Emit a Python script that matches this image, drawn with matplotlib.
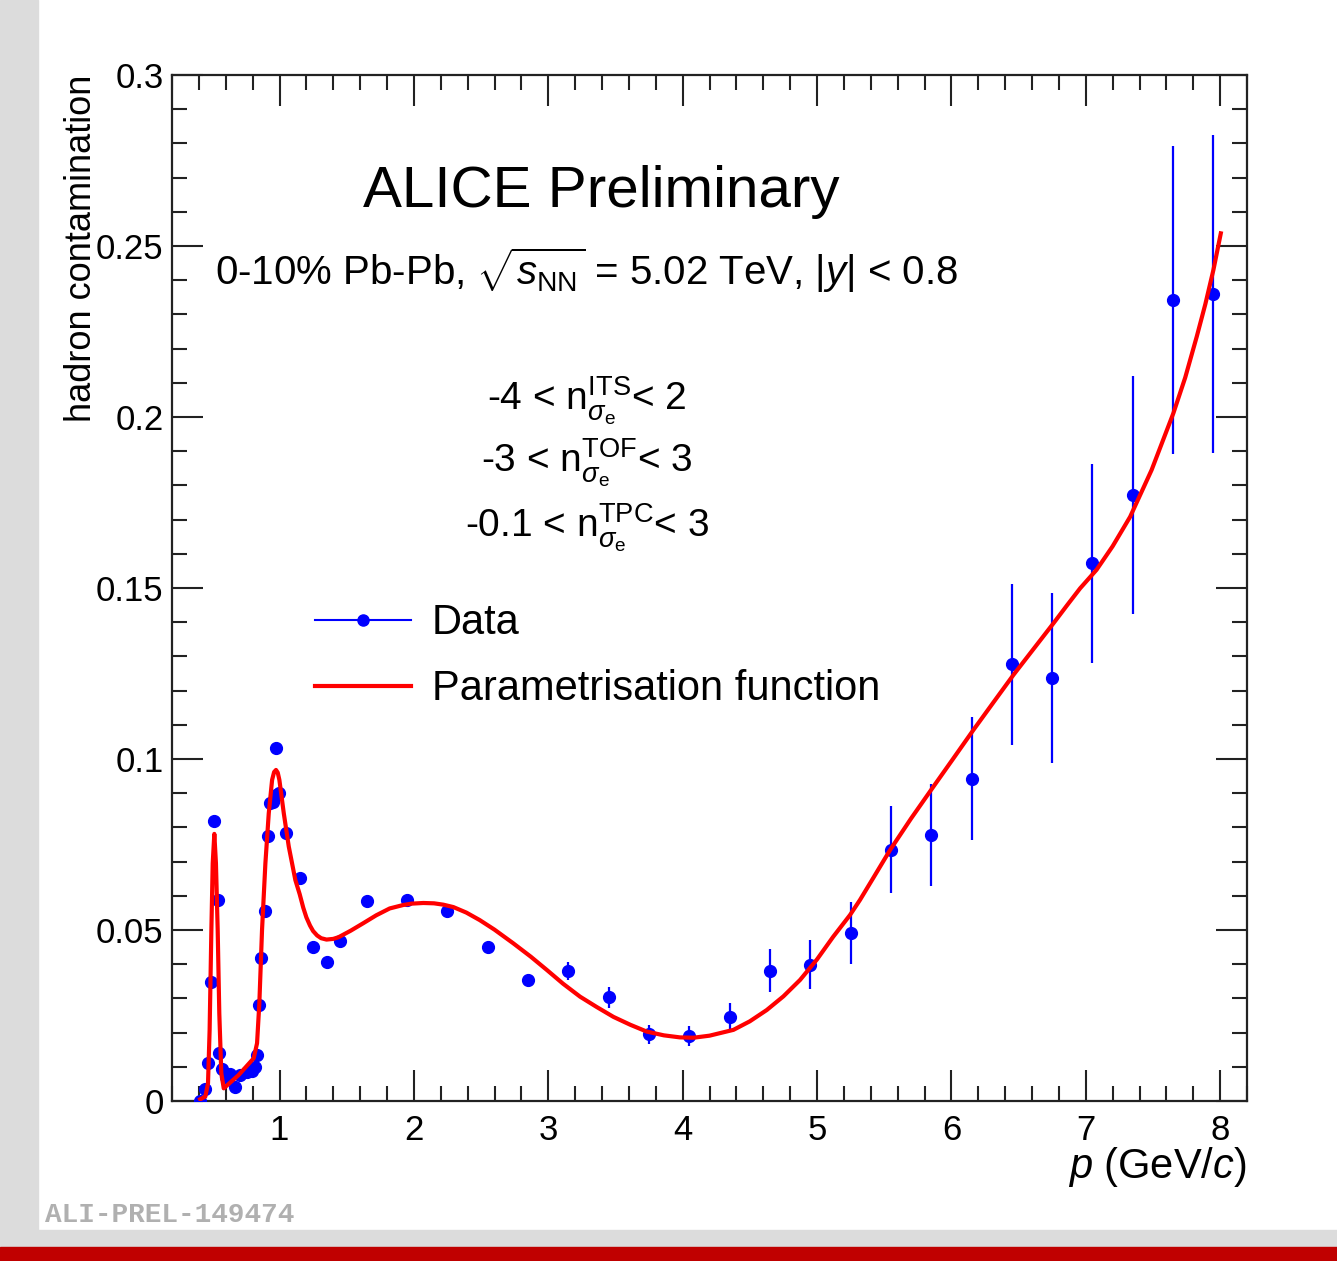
import matplotlib
matplotlib.use('Agg')
import matplotlib.pyplot as plt
from matplotlib.lines import Line2D
from matplotlib.patches import Rectangle
from matplotlib.ticker import MultipleLocator

plt.rcParams['font.family'] = ['Liberation Sans', 'DejaVu Sans']
plt.rcParams['mathtext.fontset'] = 'custom'
plt.rcParams['mathtext.rm'] = 'Liberation Sans'
plt.rcParams['mathtext.it'] = 'Liberation Sans:italic'
plt.rcParams['mathtext.bf'] = 'Liberation Sans:bold'

#%% Data
p_data = [0.41, 0.448, 0.468, 0.49, 0.51, 0.54, 0.552, 0.572, 0.602, 0.629,
          0.671, 0.708, 0.758, 0.795, 0.82, 0.833, 0.85, 0.862, 0.892, 0.912,
          0.929, 0.955, 0.974, 0.975, 0.994, 1.05, 1.15, 1.25, 1.35, 1.45,
          1.65, 1.95, 2.25, 2.55, 2.85, 3.15, 3.45, 3.75, 4.05, 4.35,
          4.65, 4.95, 5.25, 5.55, 5.85, 6.15, 6.45, 6.75, 7.05, 7.35,
          7.65, 7.95]
h_data = [0.0001, 0.0034, 0.0112, 0.0348, 0.0819, 0.0589, 0.0139, 0.0095, 0.0071, 0.0078,
          0.0042, 0.0076, 0.0086, 0.0089, 0.0100, 0.0135, 0.0281, 0.0418, 0.0556, 0.0776,
          0.0870, 0.0875, 0.0895, 0.1033, 0.0900, 0.0783, 0.0652, 0.0451, 0.0406, 0.0467,
          0.0586, 0.0589, 0.0557, 0.0450, 0.0354, 0.0380, 0.0303, 0.0195, 0.0190, 0.0245,
          0.0381, 0.0399, 0.0492, 0.0735, 0.0779, 0.0942, 0.1277, 0.1236, 0.1572, 0.1772,
          0.2342, 0.2360]
h_err = [0.0004, 0.0004, 0.0004, 0.0005, 0.0006, 0.0006, 0.0004, 0.0004, 0.0004, 0.0004,
         0.0004, 0.0004, 0.0004, 0.0004, 0.0004, 0.0005, 0.0006, 0.0006, 0.0007, 0.0008,
         0.0008, 0.0008, 0.0009, 0.0012, 0.0009, 0.0008, 0.0007, 0.0006, 0.0006, 0.0007,
         0.0008, 0.0009, 0.0009, 0.0011, 0.0015, 0.0025, 0.0030, 0.0028, 0.0030, 0.0043,
         0.0062, 0.0071, 0.0091, 0.0127, 0.0149, 0.0180, 0.0236, 0.0249, 0.0292, 0.0348,
         0.0450, 0.0465]

# Parametrisation function, points
p_fit = [0.41, 0.448, 0.468, 0.48, 0.493, 0.503, 0.515, 0.527, 0.54, 0.552,
         0.567, 0.585, 0.696, 0.808, 0.833, 0.85, 0.87, 0.895, 0.92, 0.945,
         0.96, 0.974, 0.987, 0.999, 1.032, 1.069, 1.118, 1.15, 1.177, 1.2,
         1.227, 1.25, 1.28, 1.31, 1.35, 1.4, 1.44, 1.53, 1.624, 1.72,
         1.82, 1.92, 1.98, 2.07, 2.15, 2.22, 2.294, 2.39, 2.49, 2.6,
         2.74, 2.87, 2.99, 3.11, 3.237, 3.36, 3.485, 3.61, 3.733, 3.86,
         3.98, 4.08, 4.2, 4.378, 4.5, 4.626, 4.75, 4.874, 5.0, 5.12,
         5.246, 5.32, 5.42, 5.544, 5.7, 5.866, 6.01, 6.164, 6.31, 6.462,
         6.61, 6.76, 6.86, 6.958, 7.08, 7.2, 7.33, 7.49, 7.652, 7.74,
         7.826, 7.89, 7.95, 8.005]
h_fit = [0.0005, 0.0013, 0.0052, 0.0208, 0.0500, 0.0695, 0.0781, 0.0695, 0.0500, 0.0256,
         0.0081, 0.0037, 0.0076, 0.0125, 0.0169, 0.0286, 0.0500, 0.0695, 0.0841, 0.0939,
         0.0962, 0.0968, 0.0960, 0.0939, 0.0841, 0.0744, 0.0646, 0.0605, 0.0565, 0.0537,
         0.0513, 0.0497, 0.0484, 0.0476, 0.0472, 0.0474, 0.0479, 0.0498, 0.0520, 0.0543,
         0.0563, 0.0573, 0.0577, 0.0579, 0.0578, 0.0574, 0.0567, 0.0551, 0.0529, 0.0501,
         0.0461, 0.0422, 0.0383, 0.0343, 0.0305, 0.0275, 0.0246, 0.0223, 0.0203, 0.0192,
         0.0186, 0.0185, 0.0191, 0.0208, 0.0233, 0.0266, 0.0306, 0.0354, 0.0414, 0.0480,
         0.0544, 0.0588, 0.0653, 0.0734, 0.0826, 0.0919, 0.0999, 0.1085, 0.1164, 0.1246,
         0.1321, 0.1397, 0.1449, 0.1499, 0.1553, 0.1622, 0.1708, 0.1845, 0.2011, 0.2115,
         0.2235, 0.2330, 0.2430, 0.2537]

cut_lines = [r'-4 < n$^{\rm ITS}_{\sigma_{\rm e}}$< 2',
             r'-3 < n$^{\rm TOF}_{\sigma_{\rm e}}$< 3',
             r'-0.1 < n$^{\rm TPC}_{\sigma_{\rm e}}$< 3']
cut_y = [0.6735, 0.613, 0.55]

#%% Plot
fig = plt.figure(figsize=(13.37, 12.61), dpi=100)

# Page decoration: grey border strips and red band
fig.patches.append(Rectangle((0, 0), 38/1337, 1, transform=fig.transFigure,
                             color='#dcdcdc', zorder=0))
fig.patches.append(Rectangle((0, 0), 1, 31/1261, transform=fig.transFigure,
                             color='#dcdcdc', zorder=0))
fig.patches.append(Rectangle((0, 0), 1, 14/1261, transform=fig.transFigure,
                             color='#c00000', zorder=1))
fig.text(45/1337, 1 - 1215/1261, 'ALI-PREL-149474', family='Liberation Mono',
         weight='bold', fontsize=20, color='#b0b0b0', va='center', ha='left')

ax = fig.add_axes([172/1337, 160/1261, 1075/1337, 1026/1261])

ax.errorbar(p_data, h_data, yerr=h_err, fmt='o', color='#0000ff', ms=8.5,
            elinewidth=1.6, capsize=0, zorder=3)
ax.plot(p_fit, h_fit, color='#ff0000', lw=3.0, zorder=4)

ax.set_xlim(0.2, 8.2)
ax.set_ylim(0, 0.3)
ax.xaxis.set_major_locator(MultipleLocator(1))
ax.xaxis.set_minor_locator(MultipleLocator(0.2))
ax.yaxis.set_minor_locator(MultipleLocator(0.01))
ax.set_yticks([0, 0.05, 0.1, 0.15, 0.2, 0.25, 0.3])
ax.set_yticklabels(['0', '0.05', '0.1', '0.15', '0.2', '0.25', '0.3'])

ax.tick_params(which='both', direction='in', top=True, right=True,
               width=1.5, labelsize=25, color='#222222')
ax.tick_params(axis='x', which='major', length=22, pad=9)
ax.tick_params(axis='y', which='major', length=22, pad=6)
ax.tick_params(which='minor', length=11)
for s in ax.spines.values():
    s.set_linewidth(1.6)
    s.set_color('#222222')

ax.set_ylabel('hadron contamination', fontsize=26, loc='top')
ax.yaxis.set_label_coords(-0.068, 1.0)
ax.set_xlabel(r'$p$ (GeV/$c$)', fontsize=30, loc='right')
ax.xaxis.set_label_coords(1.0, -0.043)

# Texts
ax.text(0.399, 0.871, 'ALICE Preliminary', transform=ax.transAxes,
        fontsize=42, ha='center', va='baseline')
ax.text(0.04, 0.795,
        r'0-10% Pb-Pb, $\sqrt{s_{\rm NN}}$ = 5.02 TeV, |$y$| < 0.8',
        transform=ax.transAxes, fontsize=29, ha='left', va='baseline')
for line, yy in zip(cut_lines, cut_y):
    ax.text(0.386, yy, line, transform=ax.transAxes, fontsize=28,
            ha='center', va='baseline')

# Legend
h_dat = Line2D([], [], color='#0000ff', lw=1.5, marker='o', ms=8)
h_par = Line2D([], [], color='#ff0000', lw=3.0)
ax.legend([h_dat, h_par], ['Data', 'Parametrisation function'],
          loc='upper left', bbox_to_anchor=(0.133, 0.485), frameon=False,
          fontsize=30, handlelength=2.3, handletextpad=0.5,
          labelspacing=0.62, borderpad=0, borderaxespad=0)

fig.savefig('out.png', dpi=100)
